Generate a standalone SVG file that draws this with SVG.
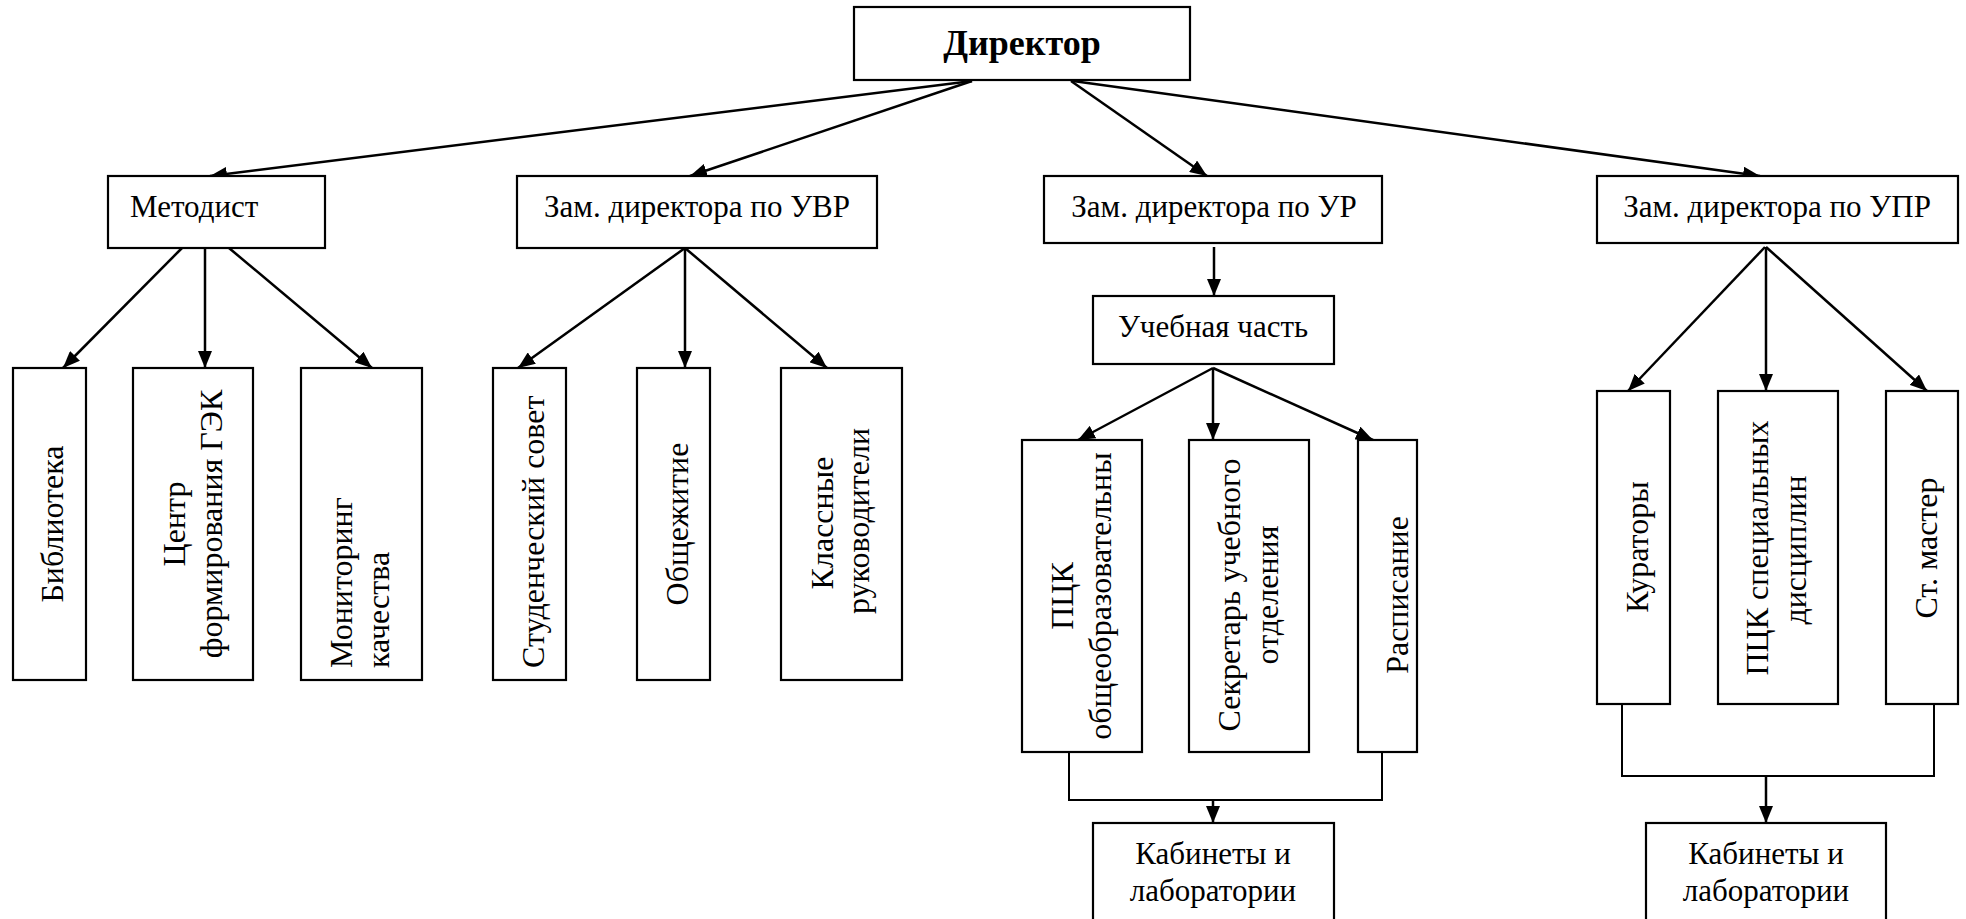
<svg xmlns="http://www.w3.org/2000/svg" width="1966" height="919" viewBox="0 0 1966 919" font-family="'Liberation Serif', 'Times New Roman', Tinos, serif">
<defs>
<marker id="ah" markerUnits="userSpaceOnUse" markerWidth="18" markerHeight="14" refX="17" refY="7" orient="auto">
<path d="M0,0 L17,7 L0,14 z" fill="#000"/>
</marker>
<style>
rect{fill:#fff;stroke:#000;stroke-width:2.2}
text{font-family:'Liberation Serif','Times New Roman',Tinos,serif;font-size:32px;fill:#000}
.h{font-size:31px}
.b{font-weight:bold;font-size:36px}
.m{text-anchor:middle}
.c line{stroke:#000;stroke-width:2.5;marker-end:url(#ah)}
.c path{fill:none;stroke:#000;stroke-width:2}
</style>
</defs>
<rect x="0" y="0" width="1966" height="919" style="fill:#fff;stroke:none"/>
<g class="c" id="connectors">
<line x1="972" y1="81" x2="210" y2="176"/>
<line x1="972" y1="81" x2="690" y2="176"/>
<line x1="1071" y1="81" x2="1207" y2="176"/>
<line x1="1073" y1="81" x2="1760" y2="176"/>
<line x1="182" y1="248" x2="63" y2="368"/>
<line x1="205" y1="248" x2="205" y2="368"/>
<line x1="229" y1="248" x2="372" y2="368"/>
<line x1="685" y1="248" x2="518" y2="368"/>
<line x1="685" y1="248" x2="685" y2="368"/>
<line x1="685" y1="248" x2="827" y2="368"/>
<line x1="1214" y1="247" x2="1214" y2="296"/>
<line x1="1213" y1="368" x2="1078" y2="440"/>
<line x1="1213" y1="368" x2="1213" y2="440"/>
<line x1="1213" y1="368" x2="1373" y2="440"/>
<line x1="1765" y1="247" x2="1628" y2="391"/>
<line x1="1766" y1="247" x2="1766" y2="391"/>
<line x1="1766" y1="247" x2="1927" y2="391"/>
<path d="M1069,752 V800 H1382 V752"/>
<line x1="1213" y1="800" x2="1213" y2="823"/>
<path d="M1622,704 V776 H1934 V704"/>
<line x1="1766" y1="776" x2="1766" y2="823"/>
</g>
<g id="director"><rect x="854" y="7" width="336" height="73"/><text class="b m" x="1022" y="55">Директор</text></g>
<g id="metodist"><rect x="108" y="176" width="217" height="72"/><text class="h" x="130" y="217">Методист</text></g>
<g id="uvr"><rect x="517" y="176" width="360" height="72"/><text class="h m" x="697" y="217">Зам. директора по УВР</text></g>
<g id="ur"><rect x="1044" y="176" width="338" height="67"/><text class="h m" x="1214" y="217">Зам. директора по УР</text></g>
<g id="upr"><rect x="1597" y="176" width="361" height="67"/><text class="h m" x="1777" y="217">Зам. директора по УПР</text></g>
<g id="uchebnaya"><rect x="1093" y="296" width="241" height="68"/><text class="h m" x="1213" y="337">Учебная часть</text></g>
<g id="biblioteka"><rect x="13" y="368" width="73" height="312"/><text class="m" transform="translate(63,524) rotate(-90)">Библиотека</text></g>
<g id="centr"><rect x="133" y="368" width="120" height="312"/><text class="m" transform="translate(185,524) rotate(-90)">Центр</text><text class="m" transform="translate(222,524) rotate(-90)">формирования ГЭК</text></g>
<g id="monitoring"><rect x="301" y="368" width="121" height="312"/><text transform="translate(352,668) rotate(-90)">Мониторинг</text><text transform="translate(389,668) rotate(-90)">качества</text></g>
<g id="studsovet"><rect x="493" y="368" width="73" height="312"/><text transform="translate(544,668) rotate(-90)">Студенческий совет</text></g>
<g id="obshezhitie"><rect x="637" y="368" width="73" height="312"/><text class="m" transform="translate(688,524) rotate(-90)">Общежитие</text></g>
<g id="klassnye"><rect x="781" y="368" width="121" height="312"/><text class="m" transform="translate(833,523) rotate(-90)">Классные</text><text class="m" transform="translate(869,521) rotate(-90)">руководители</text></g>
<g id="pck-obsh"><rect x="1022" y="440" width="120" height="312"/><text class="m" transform="translate(1073,596) rotate(-90)">ПЦК</text><text class="m" transform="translate(1111,596) rotate(-90)">общеобразовательны</text></g>
<g id="sekretar"><rect x="1189" y="440" width="120" height="312"/><text class="m" transform="translate(1240,595) rotate(-90)">Секретарь учебного</text><text class="m" transform="translate(1278,595) rotate(-90)">отделения</text></g>
<g id="raspisanie"><rect x="1358" y="440" width="59" height="312"/><text class="m" transform="translate(1408,595) rotate(-90)">Расписание</text></g>
<g id="kuratory"><rect x="1597" y="391" width="73" height="313"/><text class="m" transform="translate(1648,547) rotate(-90)">Кураторы</text></g>
<g id="pck-spec"><rect x="1718" y="391" width="120" height="313"/><text class="m" transform="translate(1768,548) rotate(-90)">ПЦК специальных</text><text class="m" transform="translate(1806,550) rotate(-90)">дисциплин</text></g>
<g id="st-master"><rect x="1886" y="391" width="72" height="313"/><text class="m" transform="translate(1937,548) rotate(-90)">Ст. мастер</text></g>
<g id="kab-1"><rect x="1093" y="823" width="241" height="110"/><text class="h m" x="1213" y="864">Кабинеты и</text><text class="h m" x="1213" y="901">лаборатории</text></g>
<g id="kab-2"><rect x="1646" y="823" width="240" height="110"/><text class="h m" x="1766" y="864">Кабинеты и</text><text class="h m" x="1766" y="901">лаборатории</text></g>
</svg>
